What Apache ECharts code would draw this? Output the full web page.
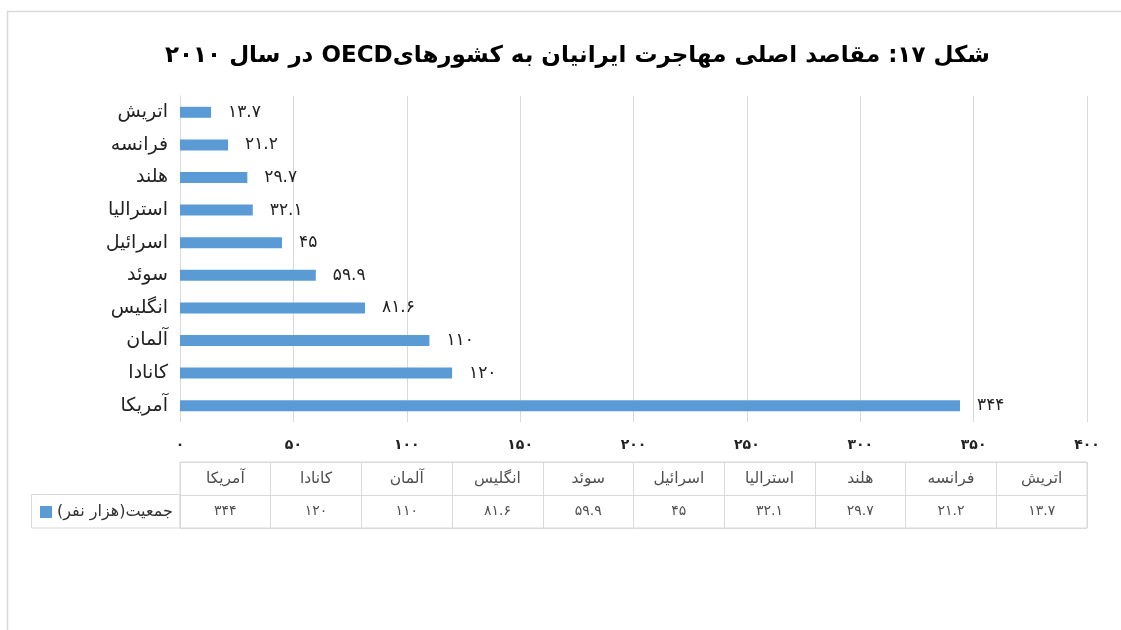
<!DOCTYPE html>
<html>
<head>
<meta charset="utf-8">
<script src="https://cdn.jsdelivr.net/npm/echarts@6/dist/echarts.min.js"></script>
<style>
  html, body { margin: 0; padding: 0; background: #fff; }
  #chart { width: 1121px; height: 630px; }
</style>
</head>
<body>
<div id="chart"></div>
<script>
// Main destinations of Iranian migrants to OECD countries, 2010 (thousand people)
const countries = ['اتریش', 'فرانسه', 'هلند', 'استرالیا', 'اسرائیل', 'سوئد', 'انگلیس', 'آلمان', 'کانادا', 'آمریکا'];
const population = [13.7, 21.2, 29.7, 32.1, 45, 59.9, 81.6, 110, 120, 344];
const seriesName = 'جمعیت(هزار نفر)';
const titleText = 'شکل ۱۷: مقاصد اصلی مهاجرت ایرانیان به کشورهایOECD در سال ۲۰۱۰';

const FONT = 'DejaVu Sans';
const RLE = '\u202B', PDF = '\u202C';
const rtl = s => RLE + s + PDF;
const faDigits = '۰۱۲۳۴۵۶۷۸۹';
const fa = v => String(v).replace(/\d/g, d => faDigits[+d]);

// table columns run from the largest value on the left to the smallest on the right
const tableCats = countries.slice().reverse();
const tableVals = population.slice().reverse();
const tableCells = [];
tableCats.forEach((c, i) => {
  tableCells.push({ value: [c, 'name'], text: c, label: { fontSize: 15.5 } });
  tableCells.push({ value: [c, 'val'], text: fa(tableVals[i]), label: { fontSize: 14 } });
});

const chart = echarts.init(document.getElementById('chart'), null, { renderer: 'canvas' });
const grid = '#d9d9d9';

chart.setOption({
  backgroundColor: '#fff',
  animation: false,
  textStyle: { fontFamily: FONT },
  title: {
    text: rtl(titleText),
    left: 160,
    top: 40,
    textStyle: { fontFamily: FONT, fontSize: 23, fontWeight: 'bold', color: '#000' }
  },
  legend: {
    data: [seriesName],
    left: 40,
    top: 504,
    padding: 0,
    itemWidth: 12,
    itemHeight: 12,
    icon: 'rect',
    formatter: n => rtl(n),
    textStyle: { fontFamily: FONT, fontSize: 16, color: '#333' }
  },
  grid: [
    { left: 180, right: 34, top: 96, height: 326 },
    { left: 180, right: 34, top: 462, height: 66, show: true, borderColor: grid, borderWidth: 1 }
  ],
  xAxis: [
    {
      gridIndex: 0,
      type: 'value',
      min: 0, max: 400, interval: 50,
      axisLine: { show: false },
      axisTick: { show: false },
      splitLine: { lineStyle: { color: grid, width: 1 } },
      axisLabel: {
        formatter: v => fa(v),
        fontFamily: FONT, fontSize: 14, fontWeight: 'bold', color: '#222', margin: 16
      }
    },
    {
      gridIndex: 1,
      type: 'category',
      data: tableCats,
      boundaryGap: true,
      axisLine: { show: false },
      axisTick: { show: false },
      axisLabel: { show: false },
      splitLine: { show: true, lineStyle: { color: grid, width: 1 } }
    }
  ],
  yAxis: [
    {
      gridIndex: 0,
      type: 'category',
      data: countries,
      inverse: true,
      axisLine: { show: true, lineStyle: { color: grid } },
      axisTick: { show: false },
      axisLabel: { fontFamily: FONT, fontSize: 19, color: '#222', margin: 12 }
    },
    {
      gridIndex: 1,
      type: 'category',
      data: ['name', 'val'],
      inverse: true,
      boundaryGap: true,
      axisLine: { show: false },
      axisTick: { show: false },
      axisLabel: { show: false },
      splitLine: { show: true, lineStyle: { color: grid, width: 1 } }
    }
  ],
  graphic: [
    // outer chart frame
    { type: 'rect', shape: { x: 7.5, y: 11.5, width: 1130, height: 640 }, style: { fill: 'none', stroke: grid, lineWidth: 1.5 }, silent: true },
    // legend cell of the data table
    { type: 'rect', shape: { x: 31.5, y: 494.5, width: 148.5, height: 33.5 }, style: { fill: 'none', stroke: grid, lineWidth: 1 }, silent: true }
  ],
  series: [
    {
      name: seriesName,
      type: 'bar',
      xAxisIndex: 0,
      yAxisIndex: 0,
      data: population,
      barWidth: 11,
      itemStyle: { color: '#5b9bd5' },
      label: {
        show: true,
        position: 'right',
        distance: 17,
        formatter: p => fa(p.value),
        fontFamily: FONT, fontSize: 17, color: '#222'
      }
    },
    {
      name: 'table',
      type: 'scatter',
      xAxisIndex: 1,
      yAxisIndex: 1,
      data: tableCells,
      symbolSize: 1,
      itemStyle: { color: 'rgba(0,0,0,0)' },
      silent: true,
      label: {
        show: true,
        position: 'inside',
        formatter: p => p.data.text,
        fontFamily: FONT, fontSize: 14, color: '#222'
      }
    }
  ]
});
</script>
</body>
</html>
